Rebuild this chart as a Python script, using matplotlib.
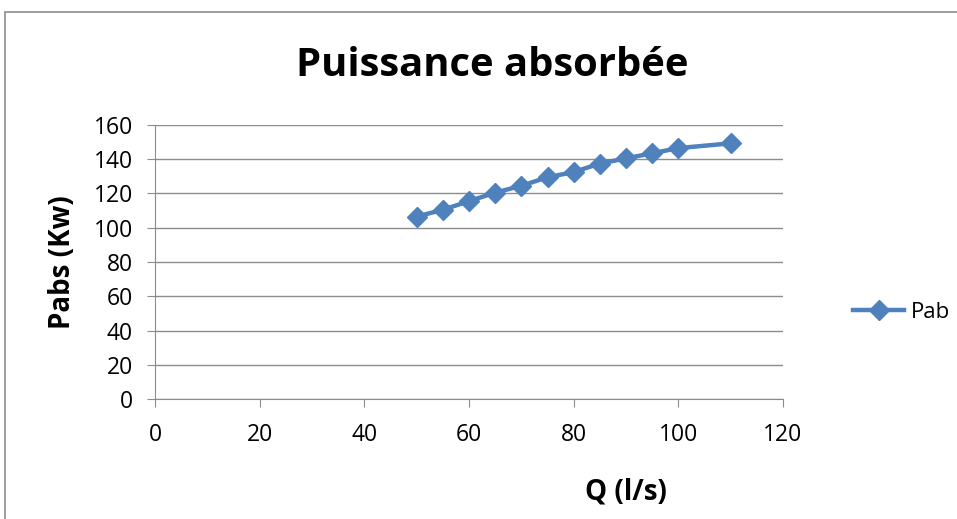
import matplotlib.pyplot as plt
from matplotlib.patches import Rectangle

plt.rcParams['font.family'] = ['Open Sans', 'DejaVu Sans']

q = [50, 55, 60, 65, 70, 75, 80, 85, 90, 95, 100, 110]
pab = [106.5, 110.5, 115.5, 120.5, 124.5, 129.5, 132.5, 137.5, 140.5, 143.5, 146.5, 149.3]
xticks = [0, 20, 40, 60, 80, 100, 120]
yticks = [0, 20, 40, 60, 80, 100, 120, 140, 160]

W, H = 957, 519
fig = plt.figure(figsize=(W / 100, H / 100), dpi=100)
ax = fig.add_axes([155 / W, 1 - 399 / H, (783 - 155) / W, (399 - 125) / H])

ax.plot(q, pab, color='#4F81BD', lw=3.2, marker='D', ms=10, label='Pab')

ax.set_xlim(0, 120)
ax.set_ylim(0, 160)
ax.set_xticks(xticks)
ax.set_yticks(yticks)
ax.yaxis.grid(True, color='#8c8c8c', lw=1)
ax.set_axisbelow(True)
for s in ['top', 'right']:
    ax.spines[s].set_visible(False)
for s in ['left', 'bottom']:
    ax.spines[s].set_color('#8c8c8c')
ax.tick_params(axis='both', direction='out', length=6, color='#8c8c8c',
               labelsize=16.5)
ax.tick_params(axis='y', pad=10)
ax.tick_params(axis='x', pad=11)

fig.text(492 / W, 1 - 66 / H, 'Puissance absorbée', ha='center', va='center',
         fontsize=28.8, fontweight='bold')
fig.text(63 / W, 1 - 262 / H, 'Pabs (Kw)', ha='center', va='center',
         rotation=90, fontsize=20, fontweight='bold')
fig.text(626 / W, 1 - 492 / H, 'Q (l/s)', ha='center', va='center',
         fontsize=20, fontweight='bold')

fig.legend(loc='center left', bbox_to_anchor=(833 / W, 1 - 312 / H), frameon=False,
           fontsize=16, handlelength=2.3, handletextpad=0.3)

fig.patches.append(Rectangle((5 / W, -0.1), 1.1, 1 - 12 / H + 0.1,
                             transform=fig.transFigure, fill=False,
                             edgecolor='#8c8c8c', lw=1.2))

fig.savefig('out.png', dpi=100)
